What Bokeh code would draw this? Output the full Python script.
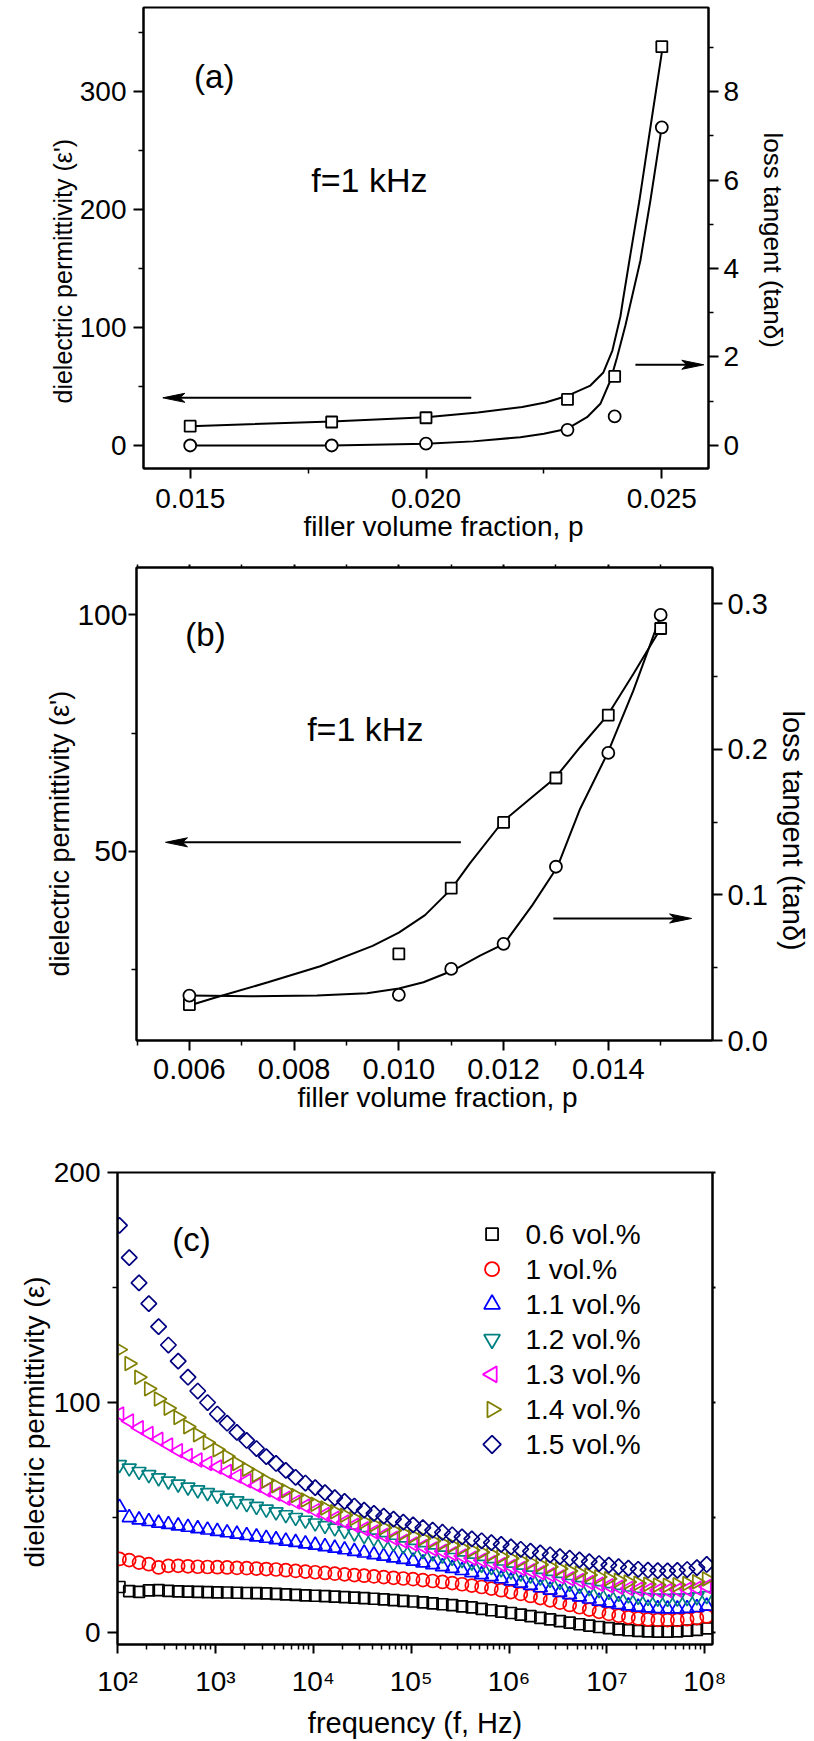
import numpy as np
from bokeh.plotting import figure
from bokeh.models import (Range1d, LinearAxis, FixedTicker, NumeralTickFormatter,
                          CustomJSTickFormatter, Title)
from bokeh.embed import file_html
from bokeh.resources import INLINE
from bokeh.core.properties import value

FONT = "Liberation Sans"

# ---------------- Panel (a) data ----------------
a_p = [0.015, 0.018, 0.020, 0.023, 0.024, 0.025]
a_eps = [16.4, 19.9, 23.5, 39.0, 58.5, 338.0]
a_tan = [0.0, 0.0, 0.04, 0.355, 0.656, 7.19]
a_eps_fit_p = [0.0150, 0.0180, 0.0200, 0.0211, 0.02204, 0.02253, 0.02302, 0.023485,
               0.023761, 0.023952, 0.024122, 0.024175, 0.024313, 0.024525, 0.024758, 0.0250]
a_eps_fit = [16.4, 20.3, 24.0, 28.0, 32.6, 36.4, 42.4, 50.8,
             61.9, 80.5, 109.3, 122.9, 156.8, 207.6, 269.5, 333.0]
a_tan_fit_p = [0.0150, 0.0180, 0.0200, 0.0210, 0.0220, 0.0225, 0.0230, 0.023415,
               0.023697, 0.023910, 0.024052, 0.024228, 0.024546, 0.024758, 0.024970, 0.0250]
a_tan_fit = [0.0, 0.0, 0.037, 0.093, 0.187, 0.267, 0.379, 0.640,
             0.942, 1.469, 1.996, 2.712, 4.181, 5.537, 7.005, 7.19]
a_arrows = {"tail": [0.02096, 0.02444], "tip": [0.01442, 0.02589], "y": [40.4, 68.4]}

# ---------------- Panel (b) data ----------------
b_p = [0.006, 0.010, 0.011, 0.012, 0.013, 0.014, 0.015]
b_eps = [17.6, 28.3, 42.2, 56.1, 65.5, 78.8, 97.1]
b_tan = [0.0309, 0.0314, 0.0492, 0.0664, 0.1194, 0.1976, 0.2924]
b_eps_fit_p = [0.006, 0.0065, 0.0075, 0.0085, 0.0095, 0.0100, 0.0105, 0.0110, 0.01136,
               0.011986, 0.012507, 0.012984, 0.013461, 0.013989, 0.014478, 0.015]
b_eps_fit = [17.4, 19.1, 22.3, 25.7, 30.0, 32.8, 36.5, 42.0, 47.5,
             56.3, 61.1, 65.5, 72.0, 78.8, 87.5, 97.1]
b_tan_fit_p = [0.006, 0.007166, 0.008438, 0.009392, 0.010, 0.010471, 0.01102, 0.01156,
               0.01201, 0.01255, 0.01303, 0.013461, 0.013989, 0.014478, 0.014955, 0.015]
b_tan_fit = [0.0309, 0.0304, 0.0309, 0.0325, 0.0357, 0.0400, 0.0479, 0.0585,
             0.0664, 0.0930, 0.1194, 0.1591, 0.1976, 0.2404, 0.2873, 0.2924]
b_arrows = {"tail": [0.011185, 0.01295], "tip": [0.005544, 0.01559], "y": [51.9, 35.8]}

# ---------------- Panel (c) data ----------------
c_logf = [2.02, 2.12, 2.22, 2.32, 2.42, 2.52, 2.62, 2.72, 2.82, 2.92,
          3.02, 3.12, 3.22, 3.32, 3.42, 3.52, 3.62, 3.72, 3.82, 3.92,
          4.02, 4.12, 4.22, 4.32, 4.42, 4.52, 4.62, 4.72, 4.82, 4.92,
          5.02, 5.12, 5.22, 5.32, 5.42, 5.52, 5.62, 5.72, 5.82, 5.92,
          6.02, 6.12, 6.22, 6.32, 6.42, 6.52, 6.62, 6.72, 6.82, 6.92,
          7.02, 7.12, 7.22, 7.32, 7.42, 7.52, 7.62, 7.72, 7.82, 7.92, 8.02]
c_labels = ["0.6 vol.%", "1 vol.%", "1.1 vol.%", "1.2 vol.%", "1.3 vol.%", "1.4 vol.%", "1.5 vol.%"]
c_06 = [19.8, 18, 17.7, 18.3, 18.4, 18.1, 17.9, 17.8, 17.7, 17.6,
        17.5, 17.4, 17.3, 17.2, 17.1, 17.0, 16.8, 16.6, 16.4, 16.2,
        16.0, 15.8, 15.6, 15.4, 15.2, 15.0, 14.7, 14.4, 14.1, 13.8,
        13.5, 13.1, 12.7, 12.3, 11.9, 11.4, 10.9, 10.3, 9.7, 9.1,
        8.5, 7.8, 7.1, 6.4, 5.7, 5.0, 4.3, 3.6, 3.0, 2.4,
        1.9, 1.4, 1.0, 0.7, 0.5, 0.4, 0.4, 0.5, 0.8, 1.2, 1.8]
c_10 = [32, 31.5, 30.4, 29.7, 28.3, 29, 29, 28.8, 28.6, 28.5,
        28.4, 28.3, 28.1, 28.0, 27.8, 27.6, 27.4, 27.1, 26.8, 26.5,
        26.2, 25.9, 25.6, 25.3, 25.0, 24.7, 24.4, 24.1, 23.8, 23.5,
        23.2, 22.8, 22.4, 22.0, 21.5, 21.0, 20.4, 19.8, 19.1, 18.4,
        17.6, 16.8, 15.9, 15.0, 14.0, 13.0, 12.0, 11.0, 10.0, 9.0,
        8.1, 7.3, 6.6, 6.1, 5.7, 5.5, 5.4, 5.5, 5.8, 6.3, 7.0]
c_11 = [54.5, 50, 49, 48.3, 47.6, 47, 46.4, 45.8, 45.2, 44.6,
        44, 43.4, 42.8, 42.2, 41.6, 41, 40.4, 39.8, 39.2, 38.6,
        38, 37.4, 36.7, 36.0, 35.3, 34.6, 33.9, 33.2, 32.5, 31.8,
        31.1, 30.3, 29.5, 28.7, 27.9, 27.0, 26.1, 25.2, 24.3, 23.4,
        22.5, 21.5, 20.5, 19.5, 18.5, 17.5, 16.5, 15.5, 14.6, 13.7,
        12.9, 12.2, 11.6, 11.1, 10.7, 10.4, 10.3, 10.3, 10.5, 10.9, 11.5]
c_12 = [73, 71.5, 70, 68.6, 67.2, 65.8, 64.5, 63.2, 62, 60.8,
        59.6, 58.4, 57.2, 56, 54.8, 53.6, 52.4, 51.2, 50, 48.8,
        47.6, 46.5, 45.4, 44.3, 43.2, 42.1, 41, 39.9, 38.8, 37.7,
        36.6, 35.6, 34.6, 33.6, 32.6, 31.6, 30.6, 29.6, 28.6, 27.6,
        26.7, 25.8, 24.9, 24.0, 23.1, 22.2, 21.3, 20.4, 19.5, 18.6,
        17.8, 17.0, 16.3, 15.7, 15.2, 14.9, 14.8, 14.9, 15.1, 15.5, 16.0]
c_13 = [95, 92, 89, 86.5, 84, 81.5, 79, 77, 75, 73.5,
        72, 70, 68, 66, 64, 62, 60.2, 58.4, 56.7, 55,
        53.0, 51.3, 49.7, 48.1, 46.6, 45.1, 43.7, 42.3, 41.0, 39.7,
        38.5, 37.4, 36.3, 35.3, 34.3, 33.3, 32.3, 31.4, 30.5, 29.6,
        28.7, 27.8, 26.9, 26.0, 25.1, 24.2, 23.4, 22.6, 21.8, 21.0,
        20.3, 19.7, 19.2, 18.8, 18.5, 18.3, 18.3, 18.5, 18.8, 19.3, 20.0]
c_14 = [123, 117, 111, 106, 101.5, 97.5, 93.5, 89.5, 86, 82.5,
        79.5, 76.5, 73.5, 71, 68.5, 66, 63.8, 61.6, 59.6, 57.6,
        55.8, 54.1, 52.5, 51.0, 49.6, 48.2, 46.9, 45.6, 44.4, 43.2,
        42.0, 40.9, 39.8, 38.8, 37.8, 36.8, 35.8, 34.9, 34.0, 33.1,
        32.2, 31.3, 30.4, 29.5, 28.6, 27.7, 26.8, 25.9, 25.0, 24.2,
        23.4, 22.7, 22.0, 21.4, 21.0, 20.7, 20.6, 20.8, 21.3, 22.1, 23.3]
c_15 = [177, 163, 152, 143, 133, 125, 118, 111, 105, 100,
        95, 91, 87, 83.5, 80, 76.5, 73.5, 70.5, 67.5, 65,
        63, 60.8, 58.6, 57, 55, 53.2, 51.8, 50.6, 49.3, 48,
        46.8, 45.6, 44.5, 43.6, 42.5, 41.6, 40.7, 39.9, 39.1, 38.3,
        37.2, 36.2, 35.4, 34.6, 33.8, 33.0, 32.3, 31.6, 30.8, 30.0,
        29.3, 28.6, 28.0, 27.5, 27.1, 26.9, 26.8, 27.0, 27.4, 28.2, 29.6]
c_series = [c_06, c_10, c_11, c_12, c_13, c_14, c_15]
c_colors = ["#000000", "#ff0000", "#0000ff", "#008080", "#ff00ff", "#808000", "#000080"]
c_markers = ["square", "circle", "triangle", "inverted_triangle", "triangle", "triangle", "square"]
c_angles = [0, 0, 0, 0, np.pi / 2, -np.pi / 2, np.pi / 4]
c_sizes = [11, 13, 14, 14, 14, 14, 11]
c_leg_sizes = [12, 14, 16, 16, 16, 16, 12.5]


def style_axis(ax, tick_px, label_px, mls, als, tick_out=10, minor_out=5):
    ax.axis_line_width = 2
    ax.axis_line_color = "black"
    ax.major_tick_line_width = 2
    ax.minor_tick_line_width = 1.5
    ax.major_tick_out = tick_out
    ax.major_tick_in = 0
    ax.minor_tick_out = minor_out
    ax.minor_tick_in = 0
    ax.major_label_text_font = FONT
    ax.major_label_text_font_size = f"{tick_px}px"
    ax.major_label_text_color = "black"
    ax.major_label_standoff = mls
    ax.axis_label_text_font = FONT
    ax.axis_label_text_font_size = f"{label_px}px"
    ax.axis_label_text_font_style = "normal"
    ax.axis_label_text_color = "black"
    ax.axis_label_standoff = als


def make_fig(w, h, mbl, mbr, mbt, mbb, xr, yr, xtype="linear"):
    p = figure(width=w, height=h, x_range=xr, y_range=yr, x_axis_type=xtype,
               toolbar_location=None, output_backend="svg",
               min_border_left=mbl, min_border_right=mbr,
               min_border_top=mbt, min_border_bottom=mbb)
    p.xgrid.visible = False
    p.ygrid.visible = False
    p.outline_line_color = "black"
    p.outline_line_width = 2
    p.outline_line_alpha = 1
    p.background_fill_color = "white"
    p.border_fill_color = "white"
    return p


def side_title(p, side, txt, size, offset, standoff, valign="middle"):
    # axis title, shifted along the axis like in the reference
    p.add_layout(Title(text=txt, align="left", offset=offset, vertical_align=valign,
                       standoff=standoff, text_font=FONT, text_font_size=size,
                       text_font_style="normal", text_color="black"), side)


def draw_arrows(p, arr, sx, sy):
    # shaft + barbed head; head geometry given in pixels, converted with the axis scales
    L, W, N = 22.0, 4.5, 5.0
    for tail, tip, y in zip(arr["tail"], arr["tip"], arr["y"]):
        d = 1.0 if tip > tail else -1.0
        notch = tip - d * (L - N) / sx
        back = tip - d * L / sx
        p.line([tail, notch], [y, y], line_color="black", line_width=2)
        p.patch([tip, back, notch, back], [y, y + W / sy, y, y - W / sy],
                fill_color="black", line_color="black", line_width=1)


def label(p, x, y, txt, size, align="center"):
    p.text(x=[x], y=[y], text=[txt], text_font=value(FONT), text_font_size=size,
           text_align=align, text_baseline="middle", text_color="black")


# ================= Panel (a) =================
A_W, A_H, A_L, A_R, A_T, A_B = 814, 556, 143, 106, 7, 88
ax0, ax1 = 0.01401, 0.02599
ay0, ay1 = -19.5, 371.2
pa = make_fig(A_W, A_H, A_L, A_R, A_T, A_B, Range1d(ax0, ax1), Range1d(ay0, ay1))
pa.extra_y_ranges = {"tan": Range1d(ay0 * 8 / 300, ay1 * 8 / 300)}
pa.xaxis.ticker = FixedTicker(ticks=[0.015, 0.020, 0.025], minor_ticks=[0.0175, 0.0225])
pa.xaxis.formatter = NumeralTickFormatter(format="0.000")
style_axis(pa.xaxis[0], 28, 28, 10, 0)
pa.yaxis.ticker = FixedTicker(ticks=[0, 100, 200, 300], minor_ticks=[50, 150, 250, 350])
style_axis(pa.yaxis[0], 28, 26, 7, 0)
ra = LinearAxis(y_range_name="tan",
                ticker=FixedTicker(ticks=[0, 2, 4, 6, 8], minor_ticks=[1, 3, 5, 7, 9]))
style_axis(ra, 28, 28, 5, 0)
pa.add_layout(ra, "right")
side_title(pa, "below", "filler volume fraction, p", "28px", 160, 0, "top")
side_title(pa, "left", "dielectric permittivity (ε')", "25px", 65, 0, "bottom")
side_title(pa, "right", "loss tangent (tanδ)", "26px", 125, 29)

pa.line(a_eps_fit_p, a_eps_fit, line_color="black", line_width=2)
pa.line(a_tan_fit_p, a_tan_fit, y_range_name="tan", line_color="black", line_width=2)
pa.scatter(a_p, a_eps, marker="square", size=11, fill_color="white", line_color="black", line_width=1.8)
pa.scatter(a_p, a_tan, marker="circle", size=12, y_range_name="tan",
           fill_color="white", line_color="black", line_width=1.8)
sxa = (A_W - A_L - A_R) / (ax1 - ax0)
sya = (A_H - A_T - A_B) / (ay1 - ay0)
draw_arrows(pa, a_arrows, sxa, sya)
label(pa, 0.01551, 313, "(a)", "33px")
label(pa, 0.01880, 224.6, "f=1 kHz", "34px")

# ================= Panel (b) =================
B_W, B_H, B_L, B_R, B_T, B_B = 814, 574, 136, 101, 11, 90
bx0, bx1 = 0.00499, 0.01599
by0, by1 = 10.0, 110.0
pb = make_fig(B_W, B_H, B_L, B_R, B_T, B_B, Range1d(bx0, bx1), Range1d(by0, by1))
pb.extra_y_ranges = {"tan": Range1d(0.0, 0.325)}
b_xticks = FixedTicker(ticks=[0.006, 0.008, 0.010, 0.012, 0.014],
                       minor_ticks=[0.005, 0.007, 0.009, 0.011, 0.013, 0.015])
pb.xaxis.ticker = b_xticks
pb.xaxis.formatter = NumeralTickFormatter(format="0.000")
style_axis(pb.xaxis[0], 29, 28, 8, 0)
pb.yaxis.ticker = FixedTicker(ticks=[50, 100], minor_ticks=[25, 75])
style_axis(pb.yaxis[0], 30, 27, 1, 0, tick_out=8, minor_out=5)
rb = LinearAxis(y_range_name="tan",
                ticker=FixedTicker(ticks=[0.0, 0.1, 0.2, 0.3], minor_ticks=[0.05, 0.15, 0.25]),
                formatter=NumeralTickFormatter(format="0.0"))
style_axis(rb, 29, 28, 5, 0)
pb.add_layout(rb, "right")
tb = LinearAxis(ticker=b_xticks, formatter=CustomJSTickFormatter(code="return '';"))
style_axis(tb, 6, 6, 0, 0, tick_out=3, minor_out=3)
pb.add_layout(tb, "above")
side_title(pb, "below", "filler volume fraction, p", "28px", 161, 0, "top")
side_title(pb, "left", "dielectric permittivity (ε')", "27px", 64, 0, "bottom")
side_title(pb, "right", "loss tangent (tanδ)", "29px", 143, 10)

pb.line(b_eps_fit_p, b_eps_fit, line_color="black", line_width=2)
pb.line(b_tan_fit_p, b_tan_fit, y_range_name="tan", line_color="black", line_width=2)
pb.scatter(b_p, b_eps, marker="square", size=11, fill_color="white", line_color="black", line_width=1.8)
pb.scatter(b_p, b_tan, marker="circle", size=12, y_range_name="tan",
           fill_color="white", line_color="black", line_width=1.8)
sxb = (B_W - B_L - B_R) / (bx1 - bx0)
syb = (B_H - B_T - B_B) / (by1 - by0)
draw_arrows(pb, b_arrows, sxb, syb)
label(pb, 0.006307, 95.9, "(b)", "33px")
label(pb, 0.009359, 75.9, "f=1 kHz", "34px")

# ================= Panel (c) =================
C_W, C_H, C_L, C_R, C_T, C_B = 814, 611, 117, 102, 42, 87
cy0, cy1 = -5.2, 200.0
pc = make_fig(C_W, C_H, C_L, C_R, C_T, C_B, Range1d(1e2, 1.2e8), Range1d(cy0, cy1), xtype="log")
minor_c = [k * 10.0 ** d for d in range(2, 8) for k in range(2, 10)]
pc.xaxis.ticker = FixedTicker(ticks=[1e2, 1e3, 1e4, 1e5, 1e6, 1e7, 1e8], minor_ticks=minor_c)
pc.xaxis.formatter = CustomJSTickFormatter(code="""
const s = {2:'\u00b2', 3:'\u00b3', 4:'\u2074', 5:'\u2075', 6:'\u2076', 7:'\u2077', 8:'\u2078'};
const e = Math.round(Math.log10(tick));
return '10' + s[e];
""")
pc.xaxis.axis_label = "frequency (f, Hz)"
style_axis(pc.xaxis[0], 28, 29, 12, 7, tick_out=9, minor_out=5)
pc.yaxis.ticker = FixedTicker(ticks=[0, 100, 200], minor_ticks=[50, 150])
style_axis(pc.yaxis[0], 28, 29, 7, 0)
rc = LinearAxis(ticker=FixedTicker(ticks=[0, 50, 100, 150, 200], minor_ticks=[]),
                formatter=CustomJSTickFormatter(code="return '';"))
style_axis(rc, 10, 10, 0, 0, tick_out=3, minor_out=0)
pc.add_layout(rc, "right")
side_title(pc, "left", "dielectric permittivity (ε)", "28px", 77, 0)

freq = [10.0 ** v for v in c_logf]
for ys, col, mk, ang, sz in zip(c_series, c_colors, c_markers, c_angles, c_sizes):
    pc.scatter(freq, ys, marker=mk, angle=ang, size=sz, fill_alpha=0,
               line_color=col, line_width=1.7)

# legend (drawn by hand so the rotated triangles / diamond keep their orientation)
leg_x_marker = 10 ** 5.827
leg_x_text = 10 ** 6.168
leg_y0, leg_dy = 173.2, 15.24
for i, (lab, col, mk, ang, sz) in enumerate(zip(c_labels, c_colors, c_markers, c_angles, c_leg_sizes)):
    yy = leg_y0 - i * leg_dy
    pc.scatter([leg_x_marker], [yy], marker=mk, angle=ang, size=sz, fill_alpha=0,
               line_color=col, line_width=1.8)
    label(pc, leg_x_text, yy, lab, "28px", align="left")

label(pc, 571.0, 170.9, "(c)", "33px")

# three independent roots stacked on the page (no frame alignment between them)
open("out.html", "w").write(file_html([pa, pb, pc], INLINE))
